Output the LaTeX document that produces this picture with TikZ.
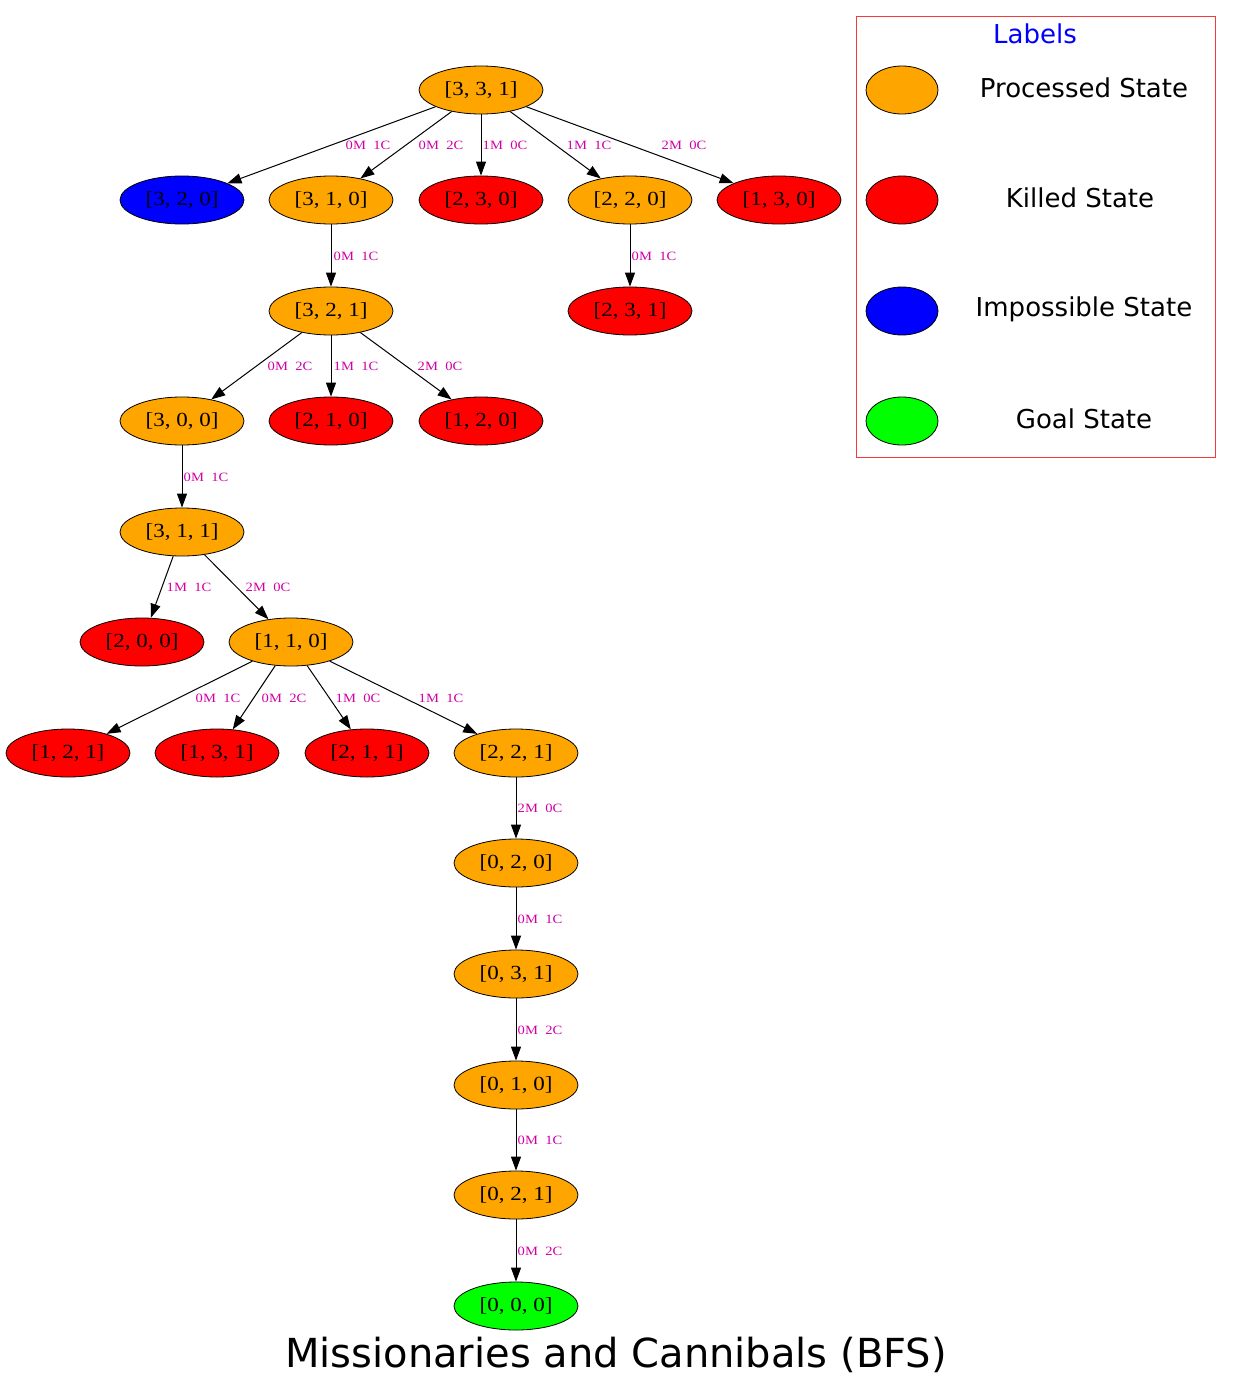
\documentclass[tikz,border=0pt]{standalone}
\usepackage{fontspec}
\setmainfont{Liberation Serif}
\newfontfamily\statefont[FakeStretch=1.15]{Liberation Serif}
\newfontfamily\legendfont{DejaVu Sans}
\usetikzlibrary{shapes,arrows,positioning,calc,arrows.meta}
\definecolor{elabcol}{RGB}{208,0,165}
\definecolor{frame}{RGB}{240,60,60}

\begin{document}
\begin{tikzpicture}[x=0.75pt, y=-0.75pt, line width=0.75pt,
	state/.style={ellipse, draw, line width=0.6pt, minimum width=93pt, minimum height=36pt, inner sep=1pt, font=\statefont\fontsize{15}{17}\selectfont},
	processed/.style={state, fill={rgb,255:red,255;green,165;blue,0}},
	killed/.style={state, fill=red},
	impossible/.style={state, fill=blue},
	goal/.style={state, fill={rgb,255:red,0;green,255;blue,0}},
	key/.style={ellipse, draw, line width=0.6pt, minimum width=54pt, minimum height=36pt},
	elab/.style={text=elabcol, inner sep=0pt, font=\statefont\fontsize{9.5}{11}\selectfont},
	->, >={Triangle[length=10.5pt,width=7.5pt]}]
	\useasboundingbox (0,0) rectangle (1232,1392);
	% states
	\node [processed] (s331) at (481,90) {[3, 3, 1]};
	\node [impossible] (s320) at (182,200) {[3, 2, 0]};
	\node [processed] (s310) at (331,200) {[3, 1, 0]};
	\node [killed] (s230) at (481,200) {[2, 3, 0]};
	\node [processed] (s220) at (630,200) {[2, 2, 0]};
	\node [killed] (s130) at (779,200) {[1, 3, 0]};
	\node [processed] (s321) at (331,311) {[3, 2, 1]};
	\node [killed] (s231) at (630,311) {[2, 3, 1]};
	\node [processed] (s300) at (182,421) {[3, 0, 0]};
	\node [killed] (s210) at (331,421) {[2, 1, 0]};
	\node [killed] (s120) at (481,421) {[1, 2, 0]};
	\node [processed] (s311) at (182,532) {[3, 1, 1]};
	\node [killed] (s200) at (142,642) {[2, 0, 0]};
	\node [processed] (s110) at (291,642) {[1, 1, 0]};
	\node [killed] (s121) at (68,753) {[1, 2, 1]};
	\node [killed] (s131) at (217,753) {[1, 3, 1]};
	\node [killed] (s211) at (367,753) {[2, 1, 1]};
	\node [processed] (s221) at (516,753) {[2, 2, 1]};
	\node [processed] (s020) at (516,863) {[0, 2, 0]};
	\node [processed] (s031) at (516,974) {[0, 3, 1]};
	\node [processed] (s010) at (516,1085) {[0, 1, 0]};
	\node [processed] (s021) at (516,1195) {[0, 2, 1]};
	\node [goal] (s000) at (516,1306) {[0, 0, 0]};
	% moves
	\draw (s331) -- (s320) node [elab, at={(368,145)}] {0M~~1C};
	\draw (s331) -- (s310) node [elab, at={(441,145)}] {0M~~2C};
	\draw (s331) -- (s230) node [elab, at={(505,145)}] {1M~~0C};
	\draw (s331) -- (s220) node [elab, at={(589,145)}] {1M~~1C};
	\draw (s331) -- (s130) node [elab, at={(684,145)}] {2M~~0C};
	\draw (s310) -- (s321) node [elab, at={(356,256)}] {0M~~1C};
	\draw (s220) -- (s231) node [elab, at={(654,256)}] {0M~~1C};
	\draw (s321) -- (s300) node [elab, at={(290,366)}] {0M~~2C};
	\draw (s321) -- (s210) node [elab, at={(356,366)}] {1M~~1C};
	\draw (s321) -- (s120) node [elab, at={(440,366)}] {2M~~0C};
	\draw (s300) -- (s311) node [elab, at={(206,477)}] {0M~~1C};
	\draw (s311) -- (s200) node [elab, at={(189,587)}] {1M~~1C};
	\draw (s311) -- (s110) node [elab, at={(268,587)}] {2M~~0C};
	\draw (s110) -- (s121) node [elab, at={(218,698)}] {0M~~1C};
	\draw (s110) -- (s131) node [elab, at={(284,698)}] {0M~~2C};
	\draw (s110) -- (s211) node [elab, at={(358,698)}] {1M~~0C};
	\draw (s110) -- (s221) node [elab, at={(441,698)}] {1M~~1C};
	\draw (s221) -- (s020) node [elab, at={(540,808)}] {2M~~0C};
	\draw (s020) -- (s031) node [elab, at={(540,919)}] {0M~~1C};
	\draw (s031) -- (s010) node [elab, at={(540,1030)}] {0M~~2C};
	\draw (s010) -- (s021) node [elab, at={(540,1140)}] {0M~~1C};
	\draw (s021) -- (s000) node [elab, at={(540,1251)}] {0M~~2C};
	% legend
	\begin{scope}[-, font=\legendfont\fontsize{19.5}{22}\selectfont]
		\draw [frame, line width=0.75pt] (856,16) rectangle (1215,457);
		\node [text=blue] (title) at (1035,34) {Labels};
		\node [key, fill={rgb,255:red,255;green,165;blue,0}] (kproc) at (902,90) {};
		\node [key, fill=red] (kkill) at (902,200) {};
		\node [key, fill=blue] (kimp) at (902,311) {};
		\node [key, fill={rgb,255:red,0;green,255;blue,0}] (kgoal) at (902,421) {};
		\node (tproc) at (1084,88) {Processed State};
		\node (tkill) at (1080,198) {Killed State};
		\node (timp) at (1084,309) {Impossible State};
		\node (tgoal) at (1084,419) {Goal State};
	\end{scope}
	\node [font=\legendfont\fontsize{30}{34}\selectfont] (heading) at (616,1355) {Missionaries and Cannibals (BFS)};
\end{tikzpicture}
\end{document}
